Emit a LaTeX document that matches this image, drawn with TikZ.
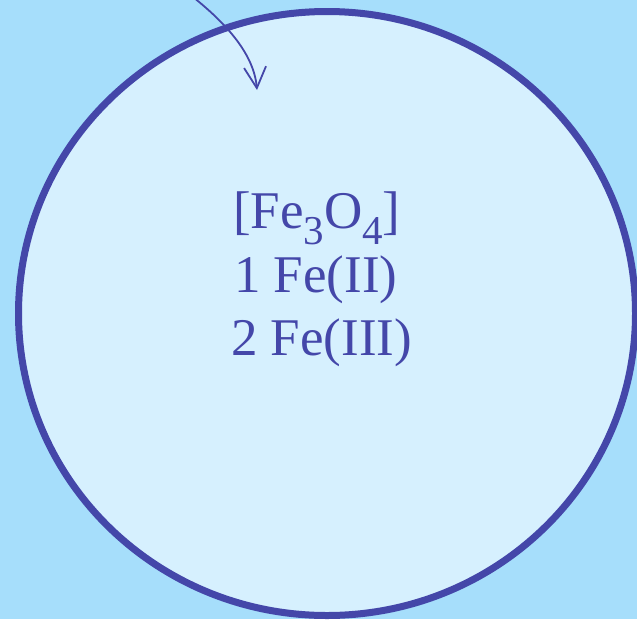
\documentclass[tikz,border=0pt]{standalone}
\usepackage{fontspec}
\setmainfont{Liberation Serif}
\usetikzlibrary{arrows.meta}
\definecolor{bgblue}{HTML}{A6DEFB}
\definecolor{fillblue}{HTML}{D6F0FE}
\definecolor{inkblue}{HTML}{4447A9}
\tikzset{
  ring/.style={draw=inkblue, fill=fillblue, line width=7pt},
  label/.style={inkblue, anchor=base west, inner sep=0pt, outer sep=0pt, font=\fontsize{53}{63}\selectfont},
  pointer/.style={draw=inkblue, line width=1.8pt, -{Straight Barb[length=21pt,width=22pt]}}
}
\newcommand{\lowsub}[1]{\raisebox{-16pt}{\fontsize{41}{41}\selectfont #1}}
\begin{document}
\begin{tikzpicture}[x=1pt,y=-1pt]
\useasboundingbox (0,0) rectangle (637,619);
\clip (0,0) rectangle (637,619);
\fill[bgblue] (0,0) rectangle (637,619);
\path[ring] (327,313.5) ellipse [x radius=308.5, y radius=302];
\node[label] (l1) at (233,228) {[Fe\lowsub{3}O\lowsub{4}]};
\node[label] (l2) at (234,292) {1 Fe(II)};
\node[label] (l3) at (231,355) {2 Fe(III)};
\coordinate (s) at (193,-3);
\coordinate (t) at (257,90);
\draw[pointer] (s) .. controls (228,25) and (254,55) .. (t);
\end{tikzpicture}
\end{document}
